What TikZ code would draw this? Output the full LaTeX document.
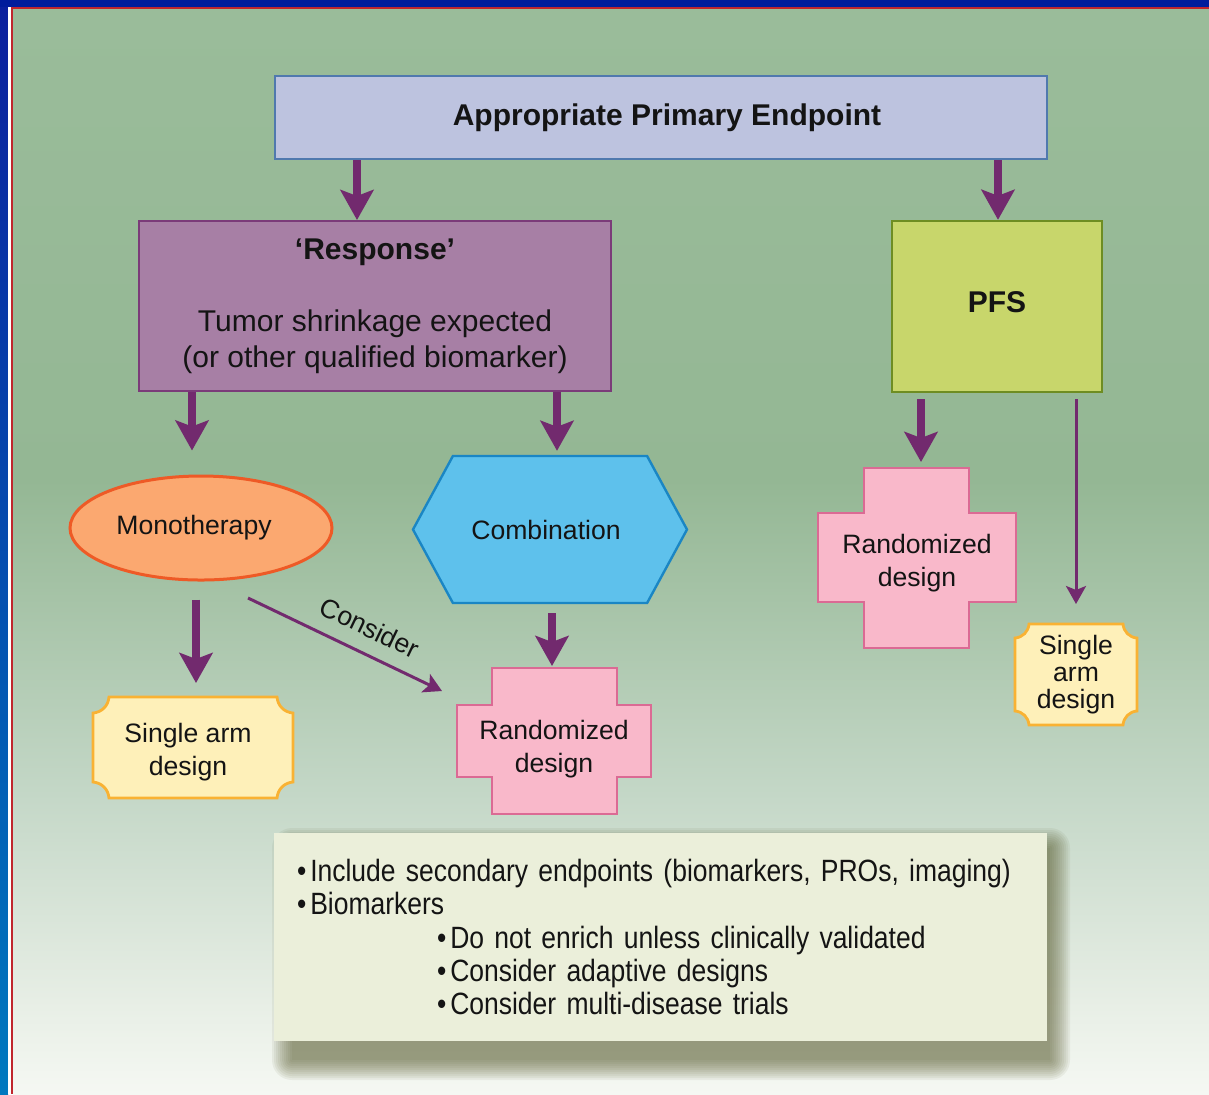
\documentclass[tikz,border=0pt]{standalone}
\usepackage{fontspec}
\setmainfont{Liberation Sans}
\newfontfamily\notefont[FakeStretch=0.86]{Liberation Sans}
\usepackage{tikz}
\usetikzlibrary{arrows.meta,shapes.geometric,shapes.symbols,backgrounds}

\definecolor{arrowc}{HTML}{722A6E}
\definecolor{topfill}{HTML}{BDC3DF}
\definecolor{topline}{HTML}{5079AE}
\definecolor{respfill}{HTML}{A77FA5}
\definecolor{respline}{HTML}{7B3B79}
\definecolor{pfsfill}{HTML}{C8D66B}
\definecolor{pfsline}{HTML}{6E8D22}
\definecolor{monofill}{HTML}{FBA870}
\definecolor{monoline}{HTML}{EE5A26}
\definecolor{combfill}{HTML}{5EC1EC}
\definecolor{combline}{HTML}{1A86C4}
\definecolor{randfill}{HTML}{F9B8CA}
\definecolor{randline}{HTML}{DB6A94}
\definecolor{sglfill}{HTML}{FEF0B9}
\definecolor{sglline}{HTML}{F9B233}
\definecolor{notefill}{HTML}{EBEFDA}
\definecolor{shadowc}{HTML}{5A5C30}
\definecolor{txt}{HTML}{141414}
\definecolor{navy}{HTML}{001C9C}
\definecolor{frametop}{HTML}{0A209E}
\definecolor{framebot}{HTML}{0079BF}
\definecolor{rimred}{HTML}{C0262D}
\definecolor{bgA}{HTML}{9ABC9A}
\definecolor{bgB}{HTML}{94B794}
\definecolor{bgC}{HTML}{C5D8C8}
\definecolor{bgD}{HTML}{E7EEE5}
\definecolor{bgE}{HTML}{F5F8F3}

\tikzset{
  fat/.style={draw=arrowc, line width=4pt, -{Stealth[length=15pt,width=16.5pt,inset=3pt]}},
  slim/.style={draw=arrowc, line width=1.5pt, -{Stealth[length=9pt,width=10pt,inset=2pt]}},
  bigtext/.style={text=txt, font=\fontsize{15}{18}\selectfont},
  smalltext/.style={text=txt, font=\fontsize{13.3}{16.5}\selectfont},
  topbox/.style={bigtext, font=\fontsize{15}{18}\selectfont\bfseries, rectangle, fill=topfill, draw=topline, line width=1pt, minimum width=386pt, minimum height=41.5pt},
  respbox/.style={bigtext, rectangle, align=center, fill=respfill, draw=respline, line width=1pt, minimum width=236pt, minimum height=85pt},
  pfsbox/.style={bigtext, font=\fontsize{15}{18}\selectfont\bfseries, rectangle, fill=pfsfill, draw=pfsline, line width=1.2pt, minimum width=105pt, minimum height=85.5pt},
  monobox/.style={smalltext, ellipse, inner sep=0pt, fill=monofill, draw=monoline, line width=1.5pt, minimum width=131pt, minimum height=52pt},
  combbox/.style={smalltext, signal, signal to=east and west, signal pointer angle=123, inner sep=0pt, fill=combfill, draw=combline, line width=1.2pt, minimum width=137pt, minimum height=73.5pt},
  shapebox/.style={rectangle, outer sep=0pt, inner sep=0pt},
  every label/.style={smalltext, align=center},
  randshape/.style={fill=randfill, draw=randline, line width=1.3pt},
  sglshape/.style={fill=sglfill, draw=sglline, line width=1.4pt},
  notebox/.style={text=txt, font=\notefont\fontsize{15.4}{16.6}\selectfont, rectangle, fill=notefill, align=left, text width=363.5pt, inner xsep=11.5pt, minimum height=104pt}
}

\begin{document}
\begin{tikzpicture}[x=0.5pt, y=-0.5pt]
\useasboundingbox (0,0) rectangle (1209,1094);

% boxes
\node[topbox] (top) at (661,117.5) {\hspace*{6pt}Appropriate Primary Endpoint};
\node[respbox] (resp) at (375,306) {\textbf{‘Response’}\\[18pt]Tumor shrinkage expected\\(or other qualified biomarker)};
\node[pfsbox] (pfs) at (997,306.5) {\raisebox{4pt}{PFS}};
\node[monobox] (mono) at (201,528) {Monotherapy\hspace*{7pt}};
\node[combbox] (comb) at (550,529.5) {Combination\hspace*{4pt}};
\node[shapebox, minimum width=97pt, minimum height=73pt,
  label={[yshift=-4pt]center:Randomized\\design}] (randL) at (554,741) {};
\node[shapebox, minimum width=99pt, minimum height=90pt,
  label={[yshift=-2.5pt]center:Randomized\\design}] (randR) at (917,558) {};
\node[shapebox, minimum width=100pt, minimum height=50.5pt,
  label={[xshift=-2.5pt, yshift=-2.5pt]center:Single arm\\design}] (sglL) at (193,747.5) {};
\node[shapebox, minimum width=61pt, minimum height=50.5pt,
  label={[font=\fontsize{13.3}{13.5}\selectfont]center:Single\\arm\\design}] (sglR) at (1076,674.5) {};
\node[notebox] (notes) at (660.5,937) {%
•\hspace{2pt}Include secondary endpoints (biomarkers, PROs, imaging)\\
•\hspace{2pt}Biomarkers\\
\hspace*{70pt}•\hspace{2pt}Do not enrich unless clinically validated\\
\hspace*{70pt}•\hspace{2pt}Consider adaptive designs\\
\hspace*{70pt}•\hspace{2pt}Consider multi-disease trials};

\coordinate (consA) at (248,598);
\coordinate (consB) at (442,691);

% arrows
\draw[fat] (top.south -| 357,0) -- (resp.north -| 357,0);
\draw[fat] (top.south -| 998,0) -- (pfs.north -| 998,0);
\draw[fat, shorten >=12pt] (resp.south -| 192,0) -- (mono.north -| 192,0);
\draw[fat, shorten >=2pt] (resp.south -| 557,0) -- (comb.north -| 557,0);
\draw[fat, shorten <=9pt, shorten >=7pt] (mono.south -| 196,0) -- (sglL.north -| 196,0);
\draw[fat, shorten <=4.5pt, shorten >=1pt] (comb.south -| 552,0) -- (randL.north -| 552,0);
\draw[fat, shorten <=3pt, shorten >=3pt] (pfs.south -| 921,0) -- (randR.north -| 921,0);
\draw[slim, shorten <=3pt, shorten >=10pt] (pfs.south -| 1076,0) -- (sglR.north -| 1076,0);
\draw[slim] (consA) -- node[smalltext, sloped, above=4pt, pos=.57] {Consider} (consB);

\begin{scope}[on background layer]
% frame
\fill[navy] (0,0) rectangle (1209,7);
\shade[top color=frametop, bottom color=framebot] (0,7) rectangle (8,1094);
\fill[white] (8,7) rectangle (11,1094);
\fill[rimred] (11,7) rectangle (1209,9);
\fill[rimred] (11,9) rectangle (13,1094);
% backdrop
\shade[top color=bgA, bottom color=bgB] (13,9) rectangle (1209,481);
\shade[top color=bgB, bottom color=bgC] (13,480) rectangle (1209,801);
\shade[top color=bgC, bottom color=bgD] (13,800) rectangle (1209,1001);
\shade[top color=bgD, bottom color=bgE] (13,1000) rectangle (1209,1094);
% soft shadow under the notes
\foreach \blur in {0,2,...,20}
  \fill[shadowc, opacity=.075, rounded corners=\blur*0.5pt] ({292-\blur},{848-\blur}) rectangle ({1050+\blur},{1060+\blur});
% cross shapes
\draw[randshape] (randL.north west) ++(35,0) -- ++(125,0) -- ++(0,37) -- ++(34,0) -- ++(0,72) -- ++(-34,0) -- ++(0,37) -- ++(-125,0) -- ++(0,-37) -- ++(-35,0) -- ++(0,-72) -- ++(35,0) -- cycle;
\draw[randshape] (randR.north west) ++(46,0) -- ++(105,0) -- ++(0,45) -- ++(47,0) -- ++(0,89) -- ++(-47,0) -- ++(0,46) -- ++(-105,0) -- ++(0,-46) -- ++(-46,0) -- ++(0,-89) -- ++(46,0) -- cycle;
% ticket shapes
\draw[sglshape] (sglL.north west) ++(16,0) -- ++(168,0) to[bend right=40] ++(16,16) -- ++(0,69) to[bend right=40] ++(-16,16) -- ++(-168,0) to[bend right=40] ++(-16,-16) -- ++(0,-69) to[bend right=40] ++(16,-16) -- cycle;
\draw[sglshape] (sglR.north west) ++(14,0) -- ++(94,0) to[bend right=40] ++(14,14) -- ++(0,73) to[bend right=40] ++(-14,14) -- ++(-94,0) to[bend right=40] ++(-14,-14) -- ++(0,-73) to[bend right=40] ++(14,-14) -- cycle;
\end{scope}
\end{tikzpicture}
\end{document}
